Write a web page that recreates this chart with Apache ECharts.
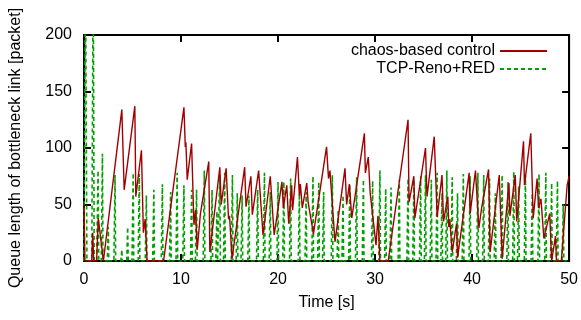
<!DOCTYPE html>
<html>
<head>
<meta charset="utf-8">
<script src="https://cdn.jsdelivr.net/npm/echarts@6/dist/echarts.min.js"></script>
<style>html,body{margin:0;padding:0;background:#fff}#c{width:581px;height:320px}</style>
</head>
<body>
<div id="c"></div>
<script>
var xTicks = [0, 10, 20, 30, 40, 50];
var yTicks = [0, 50, 100, 150, 200];
var seriesNames = ['chaos-based control', 'TCP-Reno+RED'];

// chaos-based control: [time s, queue length]
var chaosData = [
  [0,50],[0.1,0],[0.8,0],[0.9,25],[1.0,0],[1.3,0],[1.47,38],[2.0,0],[2.05,0],
  [3.9,134],[4.14,63],[5.24,137],[5.34,57],[5.92,98],[6.12,25],[6.3,37],[6.5,0],[8.2,0],
  [10.3,136],[10.44,101],[10.5,105],[10.64,72],[11.09,104],[11.33,32],[11.5,45],[11.67,10],
  [12.0,42],[12.86,88],[12.97,8],[14.0,83],[14.14,50],[14.65,82],[14.9,37],[15.0,40],[15.26,2],
  [16.56,83],[16.7,48],[17.2,75],[17.35,41],[18.0,80],[18.45,23],[19.2,75],[19.6,23],
  [20.4,70],[20.55,47],[20.9,67],[21.1,33],[21.4,67],[21.5,45],[22.0,92],[22.2,58],[22.3,68],
  [22.5,47],[22.96,69],[23.1,52],[23.65,24],[25.0,101],[25.2,73],[25.35,80],[25.87,17],
  [26.9,82],[27.07,50],[27.35,68],[27.6,38],[28.9,113],[29.0,78],[29.3,92],[29.5,60],
  [30.1,14],[30.3,40],[30.5,0],[31.35,0],[33.4,125],[33.5,52],[34.0,75],[34.1,38],
  [35.2,100],[35.35,57],[36.1,110],[36.4,39],[36.9,76],[37.06,35],[37.5,57],[37.6,30],
  [37.7,37],[37.95,8],[38.4,33],[38.5,3],[39.7,78],[39.8,42],[40.35,80],[40.7,29],[41.0,48],
  [41.7,81],[41.86,8],[42.8,76],[43.1,2],[43.8,69],[43.9,40],[44.45,76],[44.6,35],
  [45.3,106],[45.4,67],[46.05,113],[46.3,38],[46.7,73],[46.85,47],[47.1,55],[47.4,20],
  [48.0,42],[48.2,0],[48.6,22],[48.7,0],[49.2,0],[49.8,67],[50,75]
];

// TCP-Reno+RED: [time s, queue length]
var renoData = [
  [0,0],[0.15,260],[0.3,0],[0.8,0],[0.95,260],[1.05,0],[1.3,0],[1.45,80],[1.52,0],[1.78,0],[1.9,95],[1.96,0],
  [2.4,0],[2.5,30],[2.56,0],[3.08,0],[3.2,76],[3.26,0],[3.8,0],[3.9,10],[3.95,0],[4.4,0],[4.5,30],[4.56,0],
  [4.95,0],[5.07,78],[5.13,0],[5.58,0],[5.7,77],[5.76,0],[6.31,0],[6.43,58],[6.49,0],[7.08,0],[7.2,63],[7.26,0],
  [7.96,0],[8.08,68],[8.14,0],[8.81,0],[8.93,61],[8.99,0],[9.48,0],[9.6,78],[9.66,0],[10.18,0],[10.3,67],[10.36,0],
  [10.98,0],[11.1,63],[11.16,0],[11.48,0],[11.6,63],[11.66,0],[12.28,0],[12.4,80],[12.46,0],[13.08,0],[13.2,63],[13.26,0],
  [13.58,0],[13.7,44],[13.76,0],[13.88,0],[14.0,76],[14.06,0],[14.38,0],[14.5,78],[14.56,0],[15.18,0],[15.3,76],[15.36,0],
  [15.68,0],[15.8,60],[15.86,0],[16.18,0],[16.3,58],[16.36,0],[16.88,0],[17.0,58],[17.06,0],[17.78,0],[17.9,63],[17.96,0],
  [18.48,0],[18.6,78],[18.66,0],[19.08,0],[19.2,61],[19.26,0],[19.88,0],[20.0,70],[20.06,0],[20.48,0],[20.6,70],[20.66,0],
  [21.18,0],[21.3,73],[21.36,0],[22.08,0],[22.2,60],[22.26,0],[22.78,0],[22.9,61],[22.96,0],[23.48,0],[23.6,75],[23.66,0],
  [24.08,0],[24.2,70],[24.26,0],[24.58,0],[24.7,61],[24.76,0],[25.48,0],[25.6,76],[25.66,0],[26.08,0],[26.2,45],[26.26,0],
  [26.58,0],[26.7,58],[26.76,0],[27.28,0],[27.4,68],[27.46,0],[27.98,0],[28.1,74],[28.16,0],[28.68,0],[28.8,72],[28.86,0],
  [29.63,0],[29.75,71],[29.81,0],[30.38,0],[30.5,80],[30.56,0],[30.98,0],[31.1,64],[31.16,0],[31.53,0],[31.65,65],[31.71,0],
  [32.38,0],[32.5,72],[32.56,0],[33.28,0],[33.4,73],[33.46,0],[33.88,0],[34.0,72],[34.06,0],[34.58,0],[34.7,75],[34.76,0],
  [35.08,0],[35.2,76],[35.26,0],[35.68,0],[35.8,72],[35.86,0],[36.28,0],[36.4,78],[36.46,0],[36.78,0],[36.9,60],[36.96,0],
  [37.28,0],[37.4,80],[37.46,0],[37.83,0],[37.95,74],[38.01,0],[38.38,0],[38.5,60],[38.56,0],[38.98,0],[39.1,77],[39.16,0],
  [39.68,0],[39.8,75],[39.86,0],[40.48,0],[40.6,78],[40.66,0],[41.08,0],[41.2,76],[41.26,0],[41.68,0],[41.8,73],[41.86,0],
  [42.28,0],[42.4,60],[42.46,0],[42.98,0],[43.1,76],[43.16,0],[43.58,0],[43.7,70],[43.76,0],[44.18,0],[44.3,79],[44.36,0],
  [44.68,0],[44.8,66],[44.86,0],[45.38,0],[45.5,76],[45.56,0],[46.08,0],[46.2,60],[46.26,0],[46.78,0],[46.9,77],[46.96,0],
  [47.48,0],[47.6,78],[47.66,0],[48.08,0],[48.2,69],[48.26,0],[48.68,0],[48.8,71],[48.86,0],[49.28,0],[49.4,50],[49.46,0],[50,0]
];

var FONT = 'Liberation Sans, Arial, sans-serif';
var chart = echarts.init(document.getElementById('c'), null, {renderer: 'canvas'});

function xAxisDef(pos, labels) {
  return {
    type: 'value', position: pos, min: xTicks[0], max: xTicks[xTicks.length - 1], interval: 10,
    axisLine: {show: true, onZero: false, lineStyle: {color: '#000', width: 2}},
    axisTick: {show: true, inside: true, length: 7, lineStyle: {color: '#000', width: 2}},
    axisLabel: {show: labels, color: '#000', fontSize: 16, fontFamily: FONT, margin: 11},
    splitLine: {show: false},
    name: labels ? 'Time [s]' : '', nameLocation: 'middle', nameGap: 34,
    nameTextStyle: {color: '#000', fontSize: 16, fontFamily: FONT}
  };
}
function yAxisDef(pos, labels) {
  return {
    type: 'value', position: pos, min: yTicks[0], max: yTicks[yTicks.length - 1], interval: 50,
    axisLine: {show: true, onZero: false, lineStyle: {color: '#000', width: 2}},
    axisTick: {show: true, inside: true, length: 7, lineStyle: {color: '#000', width: 2}},
    axisLabel: {show: labels, color: '#000', fontSize: 16, fontFamily: FONT, margin: 12},
    splitLine: {show: false},
    name: labels ? 'Queue length of bottleneck link [packet]' : '', nameLocation: 'middle', nameGap: 60,
    nameTextStyle: {color: '#000', fontSize: 16, fontFamily: FONT}
  };
}

chart.setOption({
  animation: false,
  backgroundColor: '#fff',
  grid: {left: 83, right: 11, top: 35, bottom: 59, show: true, borderColor: '#000', borderWidth: 2, backgroundColor: 'transparent'},
  xAxis: [xAxisDef('bottom', true), xAxisDef('top', false)],
  yAxis: [yAxisDef('left', true), yAxisDef('right', false)],
  legend: {
    orient: 'vertical', right: 33, top: 43, padding: 0, align: 'right', itemWidth: 47, itemHeight: 14, itemGap: 2,
    textStyle: {color: '#000', fontSize: 16, fontFamily: FONT},
    itemStyle: {opacity: 0},
    data: seriesNames
  },
  series: [
    {
      name: seriesNames[0], type: 'line', data: chaosData, symbol: 'none', showSymbol: false,
      xAxisIndex: 0, yAxisIndex: 0, clip: true, z: 3,
      lineStyle: {color: '#a00000', width: 1.4}, itemStyle: {color: '#a00000'}
    },
    {
      name: seriesNames[1], type: 'line', data: renoData, symbol: 'none', showSymbol: false,
      xAxisIndex: 0, yAxisIndex: 0, clip: true, z: 2,
      lineStyle: {color: '#00a000', width: 1.6, type: [4, 3]}, itemStyle: {color: '#00a000'}
    }
  ]
});
</script>
</body>
</html>
